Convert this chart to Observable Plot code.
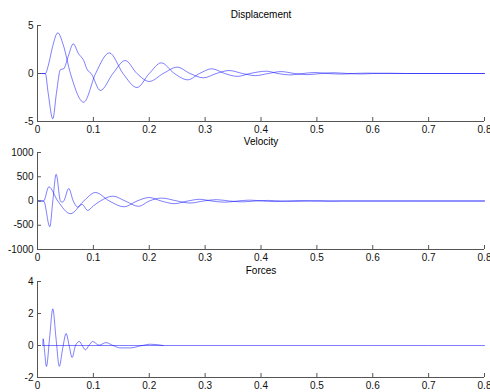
<!DOCTYPE html>
<html>
<head>
<meta charset="utf-8">
<script src="https://cdn.jsdelivr.net/npm/d3@7"></script>
<script src="https://cdn.jsdelivr.net/npm/@observablehq/plot@0.6"></script>
<style>
  html, body { margin: 0; padding: 0; background: #fff; }
  #wrap { position: relative; width: 490px; height: 392px; overflow: hidden; }
  #wrap > svg { position: absolute; left: 0; }
</style>
</head>
<body>
<div id="wrap"></div>
<script>
// ---------- data ----------
const titles = ["Displacement", "Velocity", "Forces"];
const xTicks = [0, 0.1, 0.2, 0.3, 0.4, 0.5, 0.6, 0.7, 0.8];
const xTickLabels = ["0", "0.1", "0.2", "0.3", "0.4", "0.5", "0.6", "0.7", "0.8"];

const dispTicks = [-5, 0, 5];
const dispTickLabels = ["-5", "0", "5"];
const velTicks = [-1000, -500, 0, 500, 1000];
const velTickLabels = ["-1000", "-500", "0", "500", "1000"];
const forceTicks = [-2, 0, 2, 4];
const forceTickLabels = ["-2", "0", "2", "4"];

// Displacement, series 1
const disp1T = [0, 0.014, 0.02, 0.027, 0.0363, 0.046, 0.059, 0.0827, 0.104, 0.1286, 0.153, 0.178, 0.2, 0.2214, 0.245, 0.269, 0.29, 0.312, 0.335, 0.358, 0.38, 0.41, 0.43, 0.452, 0.475, 0.497, 0.52, 0.543, 0.565, 0.59, 0.63, 0.8];
const disp1V = [0, 0, 1.0, 2.8, 4.24, 3.0, 0, -2.99, 0, 2.15, 0, -1.46, 0, 1.11, 0, -0.66, 0, 0.49, 0, -0.3, 0, 0.24, 0, -0.15, 0, 0.1, 0, -0.06, 0, 0.04, 0, 0];
// Displacement, series 2
const disp2T = [0, 0.014, 0.019, 0.0274, 0.034, 0.041, 0.047, 0.055, 0.064, 0.073, 0.0827, 0.089, 0.096, 0.1125, 0.135, 0.157, 0.178, 0.2, 0.225, 0.25, 0.273, 0.297, 0.32, 0.343, 0.367, 0.39, 0.413, 0.436, 0.46, 0.483, 0.507, 0.53, 0.555, 0.58, 0.6, 0.63, 0.66, 0.8];
const disp2V = [0, 0, -2.0, -4.72, -2.0, 0.4, 0.5, 1.8, 3.09, 2.1, 1.35, 0.4, 0, -1.77, 0, 1.35, 0, -0.83, 0, 0.66, 0, -0.45, 0, 0.31, 0, -0.22, 0, 0.2, 0, -0.12, 0, 0.08, 0, -0.05, 0, 0.03, 0, 0];

// Velocity, series 1
const vel1T = [0, 0.011, 0.0202, 0.0363, 0.0589, 0.0827, 0.1036, 0.1286, 0.155, 0.178, 0.2, 0.2214, 0.245, 0.269, 0.29, 0.312, 0.335, 0.358, 0.38, 0.403, 0.425, 0.448, 0.47, 0.495, 0.52, 0.545, 0.8];
const vel1V = [0, 0, 292, 0, -262, 0, 175, 0, -120, 0, 72, 0, -55, 0, 35, 0, -25, 0, 18, 0, -12, 0, 8, 0, -5, 0, 0];
// Velocity, series 2
const vel2T = [0, 0.011, 0.022, 0.0274, 0.0334, 0.041, 0.0441, 0.047, 0.0559, 0.064, 0.072, 0.0798, 0.0898, 0.1, 0.1125, 0.135, 0.157, 0.181, 0.2, 0.222, 0.25, 0.273, 0.297, 0.32, 0.343, 0.366, 0.39, 0.413, 0.436, 0.46, 0.483, 0.507, 0.53, 0.8];
const vel2V = [0, 0, -530, 0, 550, 0, -25, 0, 258, 0, -125, -70, -195, -100, 0, 100, 0, -110, 0, 60, 0, -42, 0, 28, 0, -18, 0, 12, 0, -8, 0, 5, 0, 0];

// Forces, series 1 (oscillating part)
const force1T = [0.0095, 0.0101, 0.0125, 0.016, 0.0217, 0.0274, 0.033, 0.039, 0.045, 0.0512, 0.0566, 0.062, 0.068, 0.075, 0.08, 0.0857, 0.092, 0.0988, 0.11, 0.1226, 0.135, 0.148, 0.166, 0.185, 0.202, 0.225];
const force1V = [0, 0.42, -0.3, -1.31, 0.5, 2.29, 0.5, -1.3, -0.2, 0.75, 0, -0.75, 0, 0.25, 0, -0.27, 0, 0.25, 0.02, 0.18, 0, -0.15, -0.15, -0.02, 0.08, 0];
// Forces, series 2 (flat at zero)
const force2T = [0.0095, 0.2, 0.4, 0.6, 0.8];
const force2V = [0, 0, 0, 0, 0];

// ---------- drawing ----------
const toRows = (T, V, s) => T.map((t, i) => ({t, v: V[i], s}));
const LINE = "#0000ff";
const AXIS = "#555";
const FONT = "Liberation Sans, Arial, Helvetica, sans-serif";

function panel({title, series, domain, ticks, tickLabels, frameH, top}) {
  const mT = 25, mB = 16, mL = 37, mR = 6, W = 490;
  const frameW = W - mL - mR;
  const rows = series.flat();
  const chart = Plot.plot({
    width: W,
    height: mT + frameH + mB,
    marginTop: mT, marginBottom: mB, marginLeft: mL, marginRight: mR,
    style: {fontFamily: FONT, fontSize: "10px", background: "transparent", color: "#000", overflow: "visible"},
    x: {domain: [0, 0.8], axis: null},
    y: {domain, axis: null},
    marks: [
      Plot.line(rows, {x: "t", y: "v", z: "s", stroke: LINE, strokeOpacity: 0.5, strokeWidth: 1, curve: "monotone-x"}),
      Plot.ruleX([0], {stroke: AXIS, strokeWidth: 1}),
      Plot.ruleY([domain[0]], {stroke: AXIS, strokeWidth: 1}),
      Plot.tickX(xTicks, {x: d => d, insetTop: frameH - 4, stroke: AXIS}),
      Plot.tickY(ticks, {y: d => d, insetRight: frameW - 4, stroke: AXIS}),
      Plot.axisX({ticks: xTicks, tickSize: 0, tickPadding: 4, label: null, tickFormat: d => xTickLabels[xTicks.indexOf(d)], fill: "#111", fontSize: 10}),
      Plot.axisY({ticks, tickSize: 0, tickPadding: 4, label: null, tickFormat: d => tickLabels[ticks.indexOf(d)], fill: "#111", fontSize: 10}),
      Plot.text([title], {text: d => d, frameAnchor: "top", dy: -11, lineAnchor: "middle", fontSize: 10, fill: "#000"})
    ]
  });
  chart.style.top = top + "px";
  document.getElementById("wrap").appendChild(chart);
}

panel({title: titles[0], series: [toRows(disp1T, disp1V, "a"), toRows(disp2T, disp2V, "b")],
  domain: [-5, 5], ticks: dispTicks, tickLabels: dispTickLabels, frameH: 96, top: 0});
panel({title: titles[1], series: [toRows(vel1T, vel1V, "a"), toRows(vel2T, vel2V, "b")],
  domain: [-1000, 1000], ticks: velTicks, tickLabels: velTickLabels, frameH: 97, top: 127});
panel({title: titles[2], series: [toRows(force1T, force1V, "a"), toRows(force2T, force2V, "b")],
  domain: [-2, 4], ticks: forceTicks, tickLabels: forceTickLabels, frameH: 96, top: 256});
</script>
</body>
</html>
